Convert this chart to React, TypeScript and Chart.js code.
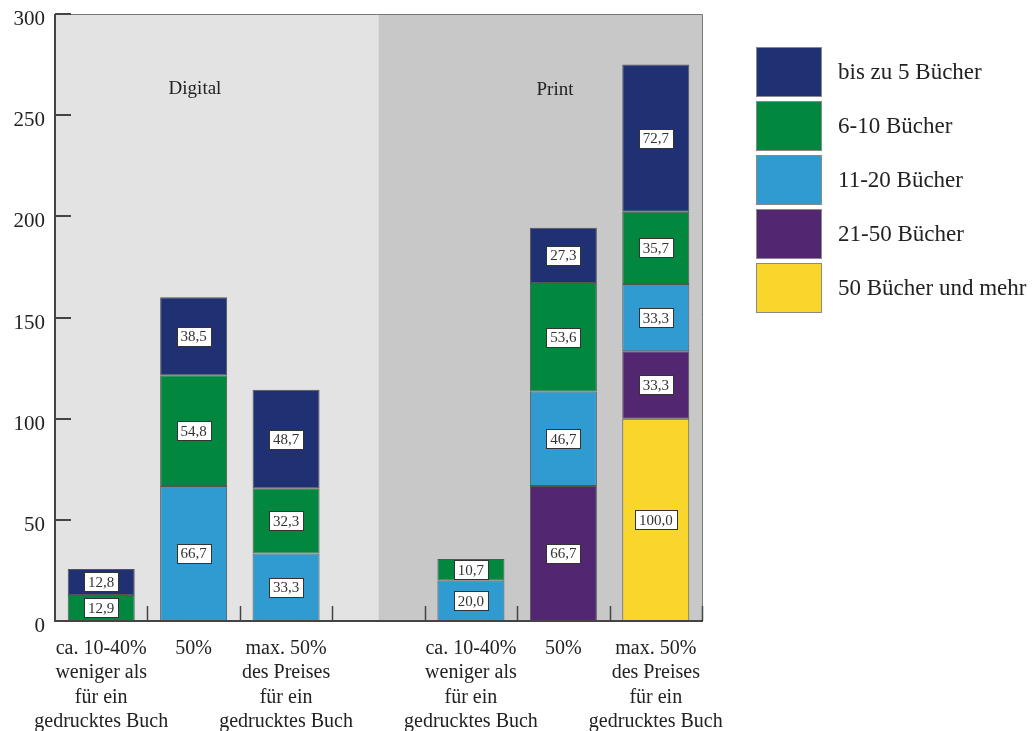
import React, { useEffect, useRef } from "react";
import { Chart, registerables } from "chart.js";

Chart.register(...registerables);

const categories: (string | string[])[] = [
  ["ca. 10-40%", "weniger als", "für ein", "gedrucktes Buch"],
  "50%",
  ["max. 50%", "des Preises", "für ein", "gedrucktes Buch"],
  "",
  ["ca. 10-40%", "weniger als", "für ein", "gedrucktes Buch"],
  "50%",
  ["max. 50%", "des Preises", "für ein", "gedrucktes Buch"],
];

const seriesNames = [
  "50 Bücher und mehr",
  "21-50 Bücher",
  "11-20 Bücher",
  "6-10 Bücher",
  "bis zu 5 Bücher",
];
const seriesColors = ["#f8d62b", "#522671", "#2f9bd0", "#02873f", "#1f3073"];

const mehr50: (number | null)[] = [null, null, null, null, null, null, 100.0];
const b21bis50: (number | null)[] = [null, null, null, null, null, 66.7, 33.3];
const b11bis20: (number | null)[] = [null, 66.7, 33.3, null, 20.0, 46.7, 33.3];
const b6bis10: (number | null)[] = [12.9, 54.8, 32.3, null, 10.7, 53.6, 35.7];
const bis5: (number | null)[] = [12.8, 38.5, 48.7, null, null, 27.3, 72.7];
const seriesValues = [mehr50, b21bis50, b11bis20, b6bis10, bis5];

const groupLabels = ["Digital", "Print"];
const yTicks = [0, 50, 100, 150, 200, 250, 300];

const FONT = "'Liberation Serif', 'DejaVu Serif', serif";

const fmt = (v: number) => v.toFixed(1).replace(".", ",");

const customPlugin = {
  id: "custom",
  beforeDatasetsDraw(chart: any) {
    const { ctx, chartArea } = chart;
    const x = chart.scales.x;
    const split = x.getPixelForValue(3);
    ctx.save();
    ctx.fillStyle = "#e3e3e3";
    ctx.fillRect(chartArea.left, chartArea.top, split - chartArea.left, chartArea.bottom - chartArea.top);
    ctx.fillStyle = "#c8c8c8";
    ctx.fillRect(split, chartArea.top, chartArea.right - split, chartArea.bottom - chartArea.top);
    ctx.fillStyle = "#222";
    ctx.font = `19px ${FONT}`;
    ctx.textAlign = "center";
    ctx.textBaseline = "middle";
    ctx.fillText(groupLabels[0], 195, 89);
    ctx.fillText(groupLabels[1], 555, 90);
    ctx.restore();
  },
  afterDatasetsDraw(chart: any) {
    const { ctx, chartArea } = chart;
    const y = chart.scales.y;
    ctx.save();
    // value boxes
    ctx.font = `15px ${FONT}`;
    ctx.textAlign = "center";
    ctx.textBaseline = "middle";
    chart.data.datasets.forEach((ds: any, di: number) => {
      const meta = chart.getDatasetMeta(di);
      meta.data.forEach((el: any, i: number) => {
        const v = ds.data[i];
        if (v == null) return;
        const cx = el.x;
        const cy = (el.y + el.base) / 2;
        const t = fmt(v);
        const w = ctx.measureText(t).width + 8;
        const h = 19;
        ctx.fillStyle = "#ffffff";
        ctx.fillRect(Math.round(cx - w / 2) + 0.5, Math.round(cy - h / 2) + 0.5, Math.round(w), h);
        ctx.strokeStyle = "#333";
        ctx.lineWidth = 1;
        ctx.strokeRect(Math.round(cx - w / 2) + 0.5, Math.round(cy - h / 2) + 0.5, Math.round(w), h);
        ctx.fillStyle = "#333";
        ctx.fillText(t, cx, cy + 1);
      });
    });
    // frame
    ctx.lineWidth = 1;
    ctx.strokeStyle = "#777";
    ctx.beginPath();
    ctx.moveTo(chartArea.left, chartArea.top + 0.5);
    ctx.lineTo(chartArea.right + 0.5, chartArea.top + 0.5);
    ctx.lineTo(chartArea.right + 0.5, chartArea.bottom);
    ctx.stroke();
    ctx.strokeStyle = "#444";
    ctx.lineWidth = 2;
    ctx.beginPath();
    ctx.moveTo(chartArea.left, chartArea.top);
    ctx.lineTo(chartArea.left, chartArea.bottom);
    ctx.lineTo(chartArea.right + 1, chartArea.bottom);
    ctx.stroke();
    // y ticks inward + labels
    ctx.font = `21px ${FONT}`;
    ctx.textAlign = "right";
    ctx.textBaseline = "middle";
    yTicks.forEach((v) => {
      const py = Math.round(y.getPixelForValue(v));
      ctx.strokeStyle = "#444";
      ctx.beginPath();
      ctx.moveTo(chartArea.left, py);
      ctx.lineTo(chartArea.left + 16, py);
      ctx.stroke();
      ctx.fillStyle = "#222";
      ctx.fillText(String(v), chartArea.left - 10, py + 5);
    });
    // x ticks inward at slot boundaries
    const n = categories.length;
    const slot = (chartArea.right - chartArea.left) / n;
    ctx.lineWidth = 1.5;
    ctx.strokeStyle = "#444";
    for (let i = 1; i <= n; i++) {
      const px = Math.round(chartArea.left + slot * i) + 0.5;
      ctx.beginPath();
      ctx.moveTo(px, chartArea.bottom);
      ctx.lineTo(px, chartArea.bottom - 15);
      ctx.stroke();
    }
    ctx.restore();
  },
  afterDraw(chart: any) {
    const { ctx } = chart;
    ctx.save();
    const order = [4, 3, 2, 1, 0];
    ctx.font = `23px ${FONT}`;
    ctx.textBaseline = "middle";
    ctx.textAlign = "left";
    order.forEach((si, k) => {
      const top = 47 + k * 54;
      ctx.fillStyle = seriesColors[si];
      ctx.fillRect(756, top, 65, 49);
      ctx.strokeStyle = "#8a8a8a";
      ctx.lineWidth = 1;
      ctx.strokeRect(756.5, top + 0.5, 65, 49);
      ctx.fillStyle = "#222";
      ctx.fillText(seriesNames[si], 838, top + 26);
    });
    ctx.restore();
  },
};

export default function App() {
  const ref = useRef<HTMLCanvasElement | null>(null);
  useEffect(() => {
    if (!ref.current) return;
    const chart = new Chart(ref.current, {
      type: "bar",
      data: {
        labels: categories,
        datasets: seriesValues.map((d, i) => ({
          label: seriesNames[i],
          data: d,
          backgroundColor: seriesColors[i],
          borderColor: "#555",
          borderWidth: 1,
          borderSkipped: false,
          categoryPercentage: 1,
          barPercentage: 0.725,
        })),
      },
      options: {
        animation: false,
        responsive: false,
        maintainAspectRatio: false,
        layout: { padding: { left: 0, right: 332, top: 14, bottom: 0 } },
        plugins: { legend: { display: false }, tooltip: { enabled: false } },
        scales: {
          x: {
            stacked: true,
            grid: { display: false, drawTicks: false },
            border: { display: false },
            ticks: {
              color: "#222",
              font: { family: FONT, size: 20, lineHeight: 1.23 },
              padding: 15,
              maxRotation: 0,
              autoSkip: false,
            },
            afterFit(s: any) {
              s.height = 110;
            },
          },
          y: {
            stacked: true,
            min: 0,
            max: 300,
            grid: { display: false, drawTicks: false },
            border: { display: false },
            ticks: { display: false, stepSize: 50 },
            afterFit(s: any) {
              s.width = 55;
            },
          },
        },
      },
      plugins: [customPlugin],
    });
    return () => chart.destroy();
  }, []);
  return (
    <div style={{ position: "absolute", left: 0, top: 0, width: 1034, height: 731, background: "#fff" }}>
      <canvas ref={ref} width={1034} height={731} />
    </div>
  );
}
